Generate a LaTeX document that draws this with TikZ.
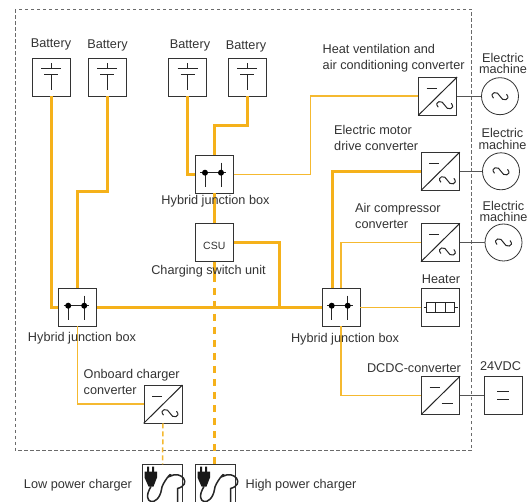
\documentclass[tikz,border=0pt]{standalone}
\usepackage{fontspec}
\setmainfont{Liberation Sans}
\definecolor{busorange}{HTML}{F5B11A}
\definecolor{thinorange}{HTML}{F5B930}
\definecolor{inkgray}{HTML}{333333}
\definecolor{linkgray}{HTML}{555555}
\definecolor{framegray}{HTML}{6A6A6A}
\tikzset{
  unitbox/.style={draw=inkgray, fill=white, line width=0.8pt, minimum width=38pt, minimum height=37.5pt, inner sep=0pt},
  machine/.style={draw=inkgray, fill=white, line width=0.8pt, circle, minimum size=37pt, inner sep=0pt},
  lbl/.style={text=inkgray, font=\fontsize{12.7}{16}\selectfont, align=left, inner sep=0pt, yshift=-1pt},
  emlbl/.style={lbl, font=\fontsize{12.7}{11.5}\selectfont, align=center},
  heavy/.style={draw=busorange, line width=3pt},
  light/.style={draw=thinorange, line width=1.5pt},
  heavydash/.style={heavy, dash pattern=on 7pt off 6pt},
  lightdash/.style={light, dash pattern=on 5pt off 3pt},
  link/.style={draw=linkgray, line width=1pt},
  sym/.style={draw=black!85, line width=1pt},
}
% one box with its symbol drawn around the centre
\newcommand\BatterySym[1]{
\draw[sym] (#1) +(0,-14)--+(0,-9) +(-10,-9)--+(10,-9) +(-7,-3)--+(7,-3) +(0,-3)--+(0,13);
}
\newcommand\TildeSym[3]{
\draw[sym] (#1) ++(#2,#3) +(-6.5,2) .. controls +(-5,-6) and +(-2,-6) .. +(0,0) .. controls +(2,6) and +(5,6) .. +(6.5,-2);
}
\newcommand\ConverterSym[1]{
\draw[sym] (#1.south west)--(#1.north east);
\draw[sym] (#1) +(-11,-8)--+(-1,-8);
}
\newcommand\JunctionSym[1]{
\draw[sym] (#1) +(-14,-1.6)--+(11.5,-1.6) +(-9.3,-1.6)--+(-9.3,12.5) +(6.7,-11.6)--+(6.7,12.5);
\fill[black] (#1) +(-9.3,-1.6) circle (3pt) +(6.7,-1.6) circle (3pt);
}
\newcommand\PlugSym[1]{
\fill[black!90] (#1) +(-15.5,-17) rectangle +(-13.5,-11) +(-10.5,-17) rectangle +(-8.5,-11);
\fill[black!90] (#1) +(-18,-12) -- +(-5.5,-12) -- +(-5.5,-6) -- +(-9,3) -- +(-14,3) -- +(-18,-6) -- cycle;
\draw[sym, line width=1.5pt] (#1) +(-11.5,3) .. controls +(-11,18) and +(-3,18) .. +(-1,6)
  .. controls +(0,-6) and +(4,-7) .. +(7,-7) .. controls +(12,-7) and +(15,-4) .. +(15,5) -- +(15,19);
}
\begin{document}
\begin{tikzpicture}[x=1pt, y=-1pt]
\useasboundingbox (0,0) rectangle (530,502);

\draw[framegray, line width=0.8pt, dash pattern=on 3.5pt off 2.5pt] (15,9.5) rectangle (471.5,450.5);

%% units
\node[unitbox] (batA) at (51,77.3) {};
\node[unitbox] (batB) at (107,77.3) {};
\node[unitbox] (batC) at (187.5,77.3) {};
\node[unitbox] (batD) at (247,77.3) {};
\node[unitbox] (juncTop) at (214.3,174.3) {};
\node[unitbox] (csu) at (214.3,242.5) {};
\node[unitbox] (juncLeft) at (77.5,307.3) {};
\node[unitbox] (juncRight) at (341,307.3) {};
\node[unitbox] (hvac) at (437.7,96.2) {};
\node[unitbox] (drive) at (440.4,171.3) {};
\node[unitbox] (comp) at (440.4,242.5) {};
\node[unitbox] (heater) at (440.7,307.3) {};
\node[unitbox] (dcdc) at (440.7,395.3) {};
\node[unitbox] (vdc) at (503,395.3) {};
\node[unitbox] (onboard) at (163,404.2) {};
\node[unitbox, minimum width=40pt] (plugLow) at (162.5,483.5) {};
\node[unitbox, minimum width=40pt] (plugHigh) at (215.5,483.5) {};
\node[machine] (emA) at (500,96.2) {};
\node[machine] (emB) at (501,171.3) {};
\node[machine] (emC) at (503.5,242.5) {};

%% buses
\draw[heavy] (batA.south)--(juncLeft.west -| batA.south)--(juncLeft.west);
\draw[heavy] (batB.south)--(107,192)--(77.5,192)--(juncLeft.north);
\draw[heavy] (batC.south)--(187.5,174.3)--(juncTop.west);
\draw[heavy] (batD.south)--(247,125.7)--(214.3,125.7)--(juncTop.north);
\draw[heavy] (juncTop.south)--(csu.north);
\draw[heavy] (csu.east)--(279,242.5)--(279,307.3);
\draw[heavy] (juncLeft.east)--(juncRight.west);
\draw[heavy] (332,288.5)--(332,171.3)--(drive.west);
\draw[heavy] (csu.south)--(214.3,275);
\draw[heavydash] (214.3,275)--(plugHigh.north -| csu.south);
\draw[light] (juncTop.east)--(310.7,174.3)--(310.7,96.2)--(hvac.west);
\draw[light] (341,288.5)--(341,242.5)--(comp.west);
\draw[light] (juncRight.east)--(heater.west);
\draw[light] (juncRight.south)--(341,395.3)--(dcdc.west);
\draw[light] (juncLeft.south)--(77.5,404.2)--(onboard.west);
\draw[lightdash] (onboard.south)--(plugLow.north);
\draw[link] (hvac.east)--(emA.west);
\draw[link] (drive.east)--(emB.west);
\draw[link] (comp.east)--(emC.west);
\draw[link] (dcdc.east)--(vdc.west);

%% symbols
\foreach \b in {batA,batB,batC,batD} {\BatterySym{\b}}
\foreach \j in {juncTop,juncLeft,juncRight} {\JunctionSym{\j}}
\foreach \c in {hvac,drive,comp,onboard} {\ConverterSym{\c}\TildeSym{\c}{7}{9}}
\foreach \m in {emA,emB,emC} {\TildeSym{\m}{0}{0}}
\ConverterSym{dcdc}
\draw[sym] (dcdc) +(1,8)--+(12,8);
\draw[sym] (vdc) +(-6,-4)--+(6,-4) +(-6,4)--+(6,4);
\draw[sym] (heater) +(-17,0)--+(-14,0) +(14,0)--+(17,0);
\draw[sym] (heater) +(-14,-5) rectangle +(14,5) +(-5,-5)--+(-5,5) +(4.3,-5)--+(4.3,5);
\PlugSym{plugLow}
\PlugSym{plugHigh}

%% labels
\node[lbl] (lblBatA) at (51,43) {Battery};
\node[lbl] (lblBatB) at (107.5,44) {Battery};
\node[lbl] (lblBatC) at (190,44) {Battery};
\node[lbl] (lblBatD) at (246,45) {Battery};
\node[lbl] (lblJuncTop) at (215.5,200.5) {Hybrid junction box};
\node[lbl, font=\fontsize{10.5}{12}\selectfont] (lblCsu) at (214.3,244.5) {CSU};
\node[lbl] (lblCsuName) at (208.5,270.5) {Charging switch unit};
\node[lbl] (lblJuncLeft) at (82,337.5) {Hybrid junction box};
\node[lbl] (lblJuncRight) at (345,338.5) {Hybrid junction box};
\node[lbl, anchor=west] (lblHvac) at (322.5,57.5) {Heat ventilation and\\air conditioning converter};
\node[lbl, anchor=west] (lblDrive) at (334,137) {Electric motor\\drive converter};
\node[lbl, anchor=west] (lblComp) at (355,214.5) {Air compressor\\converter};
\node[lbl] (lblHeater) at (441,278.5) {Heater};
\node[lbl] (lblDcdc) at (414,367) {DCDC-converter};
\node[lbl] (lblVdc) at (500.5,365) {24VDC};
\node[lbl, anchor=west] (lblOnboard) at (83.5,380.5) {Onboard charger\\converter};
\node[emlbl] (lblEmA) at (503,62.5) {Electric\\machine};
\node[emlbl] (lblEmB) at (502.5,138) {Electric\\machine};
\node[emlbl] (lblEmC) at (503.5,210.5) {Electric\\machine};
\node[lbl] (lblLow) at (78,484) {Low power charger};
\node[lbl] (lblHigh) at (301,484.5) {High power charger};
\end{tikzpicture}
\end{document}
